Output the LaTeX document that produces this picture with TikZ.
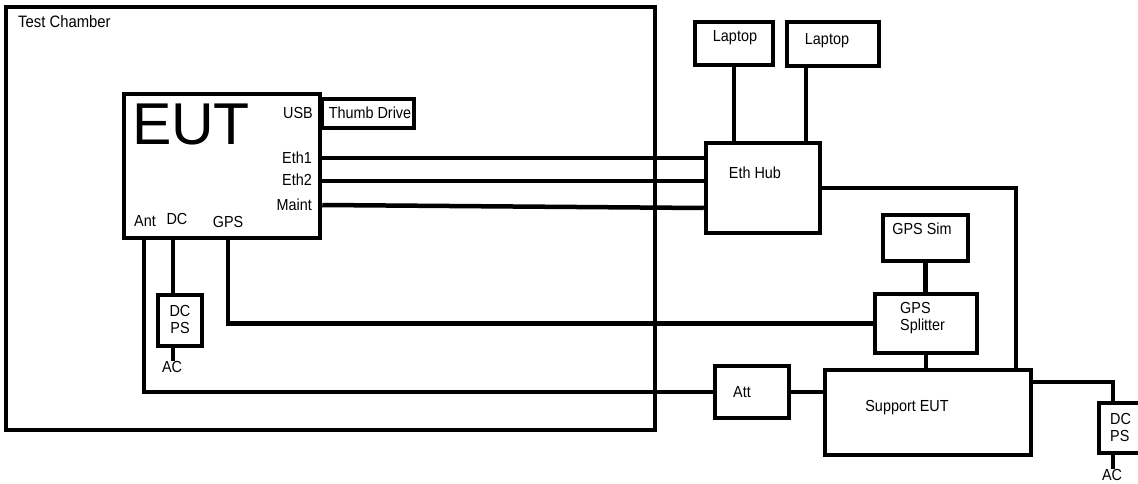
\documentclass[tikz,border=0pt]{standalone}
\usepackage{fontspec}
\setmainfont{Liberation Sans}
\newfontfamily\narrowfont{Liberation Sans}[FakeStretch=0.9]
\begin{document}
\begin{tikzpicture}[x=1pt,y=-1pt,
  box/.style={draw,line width=4.5pt,inner sep=0pt},
  wire/.style={line width=4.5pt},
  lbl/.style={inner sep=0pt,font=\narrowfont\fontsize{16}{17}\selectfont},
]
\useasboundingbox (0,0) rectangle (1138,484);
\clip (0,0) rectangle (1138,484);
\fill[white] (0,0) rectangle (1138,484);
% helper coordinates
\coordinate (x144) at (144,0);
\coordinate (x173) at (173,0);
\coordinate (x228) at (228,0);
\coordinate (x806) at (806,0);
\coordinate (x1016) at (1016,0);
\coordinate (x1113) at (1113,0);
\coordinate (y158) at (0,158);
\coordinate (y181) at (0,181);
\coordinate (y205) at (0,205);
\coordinate (y208) at (0,208);
\coordinate (y382) at (0,382);
% boxes
\node[box,minimum width=649pt,minimum height=423pt] (chamber) at (330.5,218.5) {};
\node[box,minimum width=196pt,minimum height=144pt] (eut) at (222,166) {};
\node[box,line width=4pt,minimum width=92pt,minimum height=29pt] (thumb) at (368,113.5) {};
\node[box,minimum width=114pt,minimum height=90pt] (hub) at (763,188) {};
\node[box,minimum width=78pt,minimum height=43pt] (laptop1) at (734,43.5) {};
\node[box,minimum width=92pt,minimum height=44pt] (laptop2) at (833,44) {};
\node[box,minimum width=85pt,minimum height=46pt] (gpssim) at (925.5,238) {};
\node[box,minimum width=102pt,minimum height=59pt] (splitter) at (926,323.5) {};
\node[box,minimum width=206pt,minimum height=85pt] (support) at (928,412.5) {};
\node[box,minimum width=74pt,minimum height=52pt] (att) at (752,392) {};
\node[box,minimum width=44pt,minimum height=51pt] (dcps1) at (180,320.5) {};
\node[box,minimum width=46pt,minimum height=50pt] (dcps2) at (1122,428) {};
% texts
\node[lbl,anchor=west,font=\narrowfont\fontsize{16.5}{18}\selectfont] (tc) at (18,22) {Test Chamber};
\node[inner sep=0pt,font=\fontsize{59}{60}\selectfont] (euttxt) at (191,124) {EUT};
\node[lbl,anchor=east] (usb) at (313,113) {USB};
\node[lbl,anchor=east] (eth1) at (312,158) {Eth1};
\node[lbl,anchor=east] (eth2) at (312,180) {Eth2};
\node[lbl,anchor=east] (maint) at (312,205) {Maint};
\node[lbl] (ant) at (145,221) {Ant};
\node[lbl] (dc) at (177,219) {DC};
\node[lbl] (gps) at (228,222) {GPS};
\node[lbl] (thumbtxt) at (370,113) {Thumb Drive};
\node[lbl] (lap1txt) at (735,38) {Laptop};
\node[lbl] (lap2txt) at (827,41) {Laptop};
\node[lbl] (hubtxt) at (755,173) {Eth Hub};
\node[lbl] (simtxt) at (922,229) {GPS Sim};
\node[lbl,anchor=west,align=left] (spltxt) at (900,318) {GPS\\Splitter};
\node[lbl] (atttxt) at (742,392) {Att};
\node[lbl] (suptxt) at (907,408) {Support EUT};
\node[lbl,align=center] (dc1txt) at (180,319.5) {DC\\PS};
\node[lbl,anchor=west,align=left] (dc2txt) at (1110,427.5) {DC\\PS};
\node[lbl,anchor=north] (ac1) at (172,361) {AC};
\node[lbl,anchor=north] (ac2) at (1112,469) {AC};
% connectors
\draw[wire] (eut.east |- y158) -- (hub.west |- y158);
\draw[wire] (eut.east |- y181) -- (hub.west |- y181);
\draw[wire] (eut.east |- y205) -- (hub.west |- y208);
\draw[wire] (laptop1.south) -- (laptop1.south |- hub.north);
\draw[wire] (laptop2.south -| x806) -- (hub.north -| x806);
\draw[wire] (hub.east) -| (support.north -| x1016);
\draw[wire] (gpssim.south) -- (gpssim.south |- splitter.north);
\draw[wire] (splitter.south) -- (splitter.south |- support.north);
\draw[wire] (eut.south -| x144) |- (att.west);
\draw[wire] (att.east) -- (att.east -| support.west);
\draw[wire] (eut.south -| x228) |- (splitter.west);
\draw[wire] (eut.south -| x173) -- (dcps1.north -| x173);
\draw[wire] (dcps1.south -| x173) -- (ac1.north -| x173);
\draw[wire] (support.east |- y382) -| (dcps2.north -| x1113);
\draw[wire] (dcps2.south -| x1113) -- (ac2.north -| x1113);
\end{tikzpicture}
\end{document}
